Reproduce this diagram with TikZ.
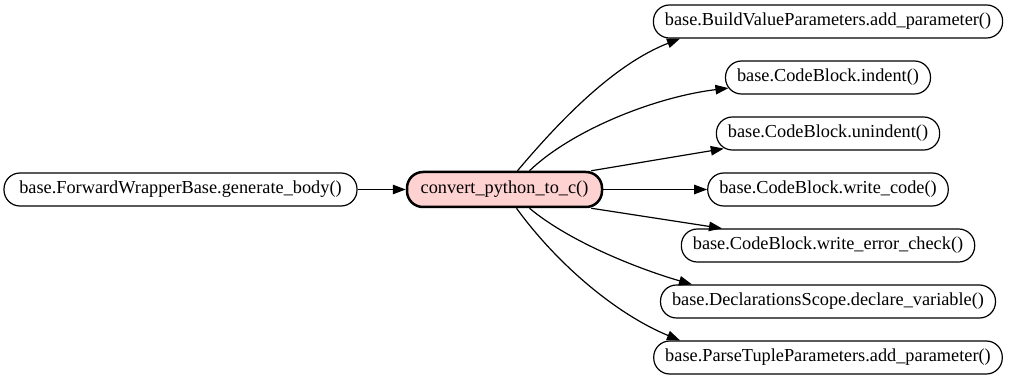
\documentclass[tikz,border=0pt]{standalone}
\usepackage{fontspec}
\setmainfont{Liberation Serif}
\usetikzlibrary{arrows.meta}
\definecolor{callpink}{RGB}{255,210,210}
\begin{document}
\begin{tikzpicture}[x=1pt,y=1pt,
  fn/.style={draw=black, line width=1.2pt, rounded corners=16pt, fill=white,
    minimum height=33pt, inner xsep=11.5pt, inner ysep=0pt,
    font=\fontsize{18.3}{20}\selectfont},
  focus/.style={fn, line width=2.5pt, fill=callpink, minimum height=35pt},
  call/.style={line width=1.2pt, -{Triangle[length=13pt,width=9.5pt]}}]
\useasboundingbox[fill=white] (0,0) rectangle (1011,-379);

% caller, function, callees
\node[fn, minimum width=353pt] (caller) at (180.5,-189.5) {base.ForwardWrapperBase.generate\_body()};
\node[focus, minimum width=195pt] (c) at (504.5,-189.5) {convert\_python\_to\_c()};
\node[fn] (n1) at (828,-21.5)  {base.BuildValueParameters.add\_parameter()};
\node[fn] (n2) at (828,-77.5)  {base.CodeBlock.indent()};
\node[fn] (n3) at (828,-133.5) {base.CodeBlock.unindent()};
\node[fn] (n4) at (828,-189.5) {base.CodeBlock.write\_code()};
\node[fn] (n5) at (828,-245.5) {base.CodeBlock.write\_error\_check()};
\node[fn] (n6) at (828,-301.5) {base.DeclarationsScope.declare\_variable()};
\node[fn] (n7) at (828,-357.5) {base.ParseTupleParameters.add\_parameter()};

% call edges
\draw[call] (caller) -- (c);
\draw[call] ([xshift=13pt]c.north) .. controls (562,-118) and (615,-64) .. ([xshift=-148pt]n1.south);
\draw[call] ([xshift=25pt]c.north) .. controls (572,-130) and (655,-97) .. ([xshift=3.5pt,yshift=6.5pt]n2.south west);
\draw[call] ([xshift=-12pt]c.north east) -- ([xshift=8pt,yshift=2pt]n3.south west);
\draw[call] (c) -- (n4);
\draw[call] ([xshift=-12pt]c.south east) -- ([xshift=-106pt]n5.north);
\draw[call] ([xshift=25pt]c.south) .. controls (571,-243) and (642,-270) .. ([xshift=-136pt]n6.north);
\draw[call] ([xshift=12pt]c.south) .. controls (557,-264) and (616,-314) .. ([xshift=-148pt]n7.north);
\end{tikzpicture}
\end{document}
